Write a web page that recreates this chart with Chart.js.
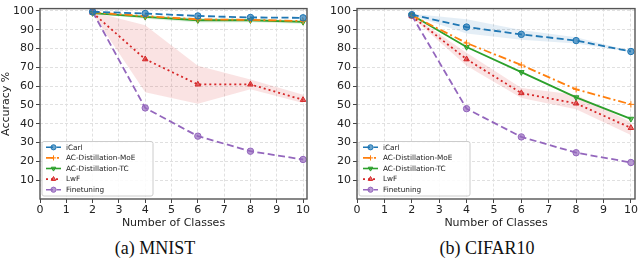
<!DOCTYPE html>
<html>
<head>
<meta charset="utf-8">
<script src="https://cdn.jsdelivr.net/npm/chart.js@4/dist/chart.umd.min.js"></script>
<style>
    body { margin: 0; background: #fff; width: 640px; height: 261px; overflow: hidden; position: relative; }
    .box { position: absolute; top: 0; height: 230px; }
    .caption { position: absolute; top: 238px; font-family: "Liberation Serif", serif; font-size: 18px; color: #111; text-align: center; width: 200px; }
</style>
</head>
<body>
<div class="box" style="left:0; width:320px;"><canvas id="mnistChart"></canvas></div>
<div class="box" style="left:320px; width:320px;"><canvas id="cifarChart"></canvas></div>
<div class="caption" style="left:55px;">(a) MNIST</div>
<div class="caption" style="left:387px;">(b) CIFAR10</div>
<script>
// Data
const classes = [2, 4, 6, 8, 10];
const xTicks = [0, 1, 2, 3, 4, 5, 6, 7, 8, 9, 10];
const yTicks = [10, 20, 30, 40, 50, 60, 70, 80, 90, 100];

// MNIST
const mnistIcarl = [99.5, 98.6, 97.3, 96.5, 96.3];
const mnistMoE = [99.2, 97.2, 95.5, 95.2, 94.6];
const mnistTC = [98.8, 96.8, 95.0, 95.0, 94.1];
const mnistLwF = [99.0, 74.3, 60.9, 60.9, 52.7];
const mnistFinetune = [99.5, 48.4, 33.4, 25.4, 21.0];
const mnistLwFUpper = [99.5, 92.3, 70.8, 63.5, 55.4];
const mnistLwFLower = [98.5, 56.8, 50.6, 58.3, 51.0];
const mnistTCUpper = [99.2, 97.6, 96.2, 95.8, 95.0];
const mnistTCLower = [98.4, 95.8, 93.8, 94.0, 93.2];

// CIFAR10
const cifarIcarl = [98.0, 91.4, 87.5, 84.2, 78.4];
const cifarMoE = [97.6, 82.9, 71.2, 58.3, 50.3];
const cifarTC = [97.8, 80.8, 67.4, 54.0, 42.6];
const cifarLwF = [97.2, 74.3, 56.3, 50.8, 37.8];
const cifarFinetune = [97.6, 48.0, 33.0, 24.6, 19.4];
const cifarIcarlUpper = [98.4, 95.6, 89.8, 86.0, 78.7];
const cifarIcarlLower = [97.6, 88.0, 84.6, 82.6, 78.1];
const cifarLwFUpper = [97.6, 77.7, 59.0, 55.4, 40.8];
const cifarLwFLower = [96.6, 70.8, 53.7, 47.7, 34.0];

const pts = arr => classes.map((c, i) => ({ x: c, y: arr[i] }));

const seriesStyle = {
    icarl: { label: 'iCarl', color: '#1f77b4', dash: [7, 3.5], marker: 'circle', rot: 0 },
    moe: { label: 'AC-Distillation-MoE', color: '#ff7f0e', dash: [8, 3, 2, 3], marker: 'cross', rot: 0 },
    tc: { label: 'AC-Distillation-TC', color: '#2ca02c', dash: [], marker: 'triangle', rot: 180 },
    lwf: { label: 'LwF', color: '#d62728', dash: [2, 3], marker: 'triangle', rot: 0 },
    ft: { label: 'Finetuning', color: '#9467bd', dash: [7, 3.5], marker: 'circle', rot: 0 }
};

function line(key, values) {
    const s = seriesStyle[key];
    return {
        label: s.label,
        data: pts(values),
        borderColor: s.color,
        borderWidth: 1.8,
        borderDash: s.dash,
        pointStyle: s.marker,
        pointRotation: s.rot,
        pointRadius: 3.2,
        pointBorderWidth: 1,
        pointBorderColor: s.color,
        pointBackgroundColor: s.color + 'aa',
        fill: false,
        tension: 0
    };
}

function band(upper, lower, color) {
    return [{
        band: true,
        data: pts(upper),
        borderWidth: 0,
        pointRadius: 0,
        backgroundColor: color,
        fill: '+1'
    }, {
        band: true,
        data: pts(lower),
        borderWidth: 0,
        pointRadius: 0,
        fill: false
    }];
}

// Frame around the plot area (matplotlib style box)
const framePlugin = {
    id: 'frame',
    afterDatasetsDraw(chart) {
        const a = chart.chartArea;
        const ctx = chart.ctx;
        ctx.save();
        ctx.strokeStyle = '#555';
        ctx.lineWidth = 1.4;
        ctx.strokeRect(a.left, a.top, a.right - a.left, a.bottom - a.top);
        ctx.restore();
    }
};

// Legend box in lower-left corner of the plot area
const boxLegendPlugin = {
    id: 'boxLegend',
    afterDraw(chart) {
        const a = chart.chartArea;
        const ctx = chart.ctx;
        const items = chart.data.datasets.filter(d => !d.band);
        const x0 = a.left + 2, y1 = a.bottom - 3;
        const w = 111, rowH = 10.6, h = items.length * rowH + 1.5;
        const y0 = y1 - h;
        ctx.save();
        ctx.fillStyle = 'rgba(255,255,255,0.85)';
        ctx.strokeStyle = '#cccccc';
        ctx.lineWidth = 1;
        ctx.beginPath();
        ctx.roundRect(x0, y0, w, h, 2);
        ctx.fill();
        ctx.stroke();
        ctx.font = '7.3px "DejaVu Sans"';
        ctx.textBaseline = 'middle';
        items.forEach((d, i) => {
            const cy = y0 + 5.8 + i * rowH;
            ctx.strokeStyle = d.borderColor;
            ctx.lineWidth = 1.6;
            ctx.setLineDash(d.borderDash);
            ctx.beginPath();
            ctx.moveTo(x0 + 4, cy);
            ctx.lineTo(x0 + 19, cy);
            ctx.stroke();
            ctx.setLineDash([]);
            ctx.fillStyle = d.pointBackgroundColor;
            ctx.strokeStyle = d.pointBorderColor;
            ctx.lineWidth = 1;
            Chart.helpers.drawPoint(ctx, {
                pointStyle: d.pointStyle,
                rotation: d.pointRotation,
                radius: 2.6,
                borderWidth: 1
            }, x0 + 11.5, cy);
            ctx.fillStyle = '#222';
            ctx.fillText(d.label, x0 + 24, cy + 0.5);
        });
        ctx.restore();
    }
};

const gridStyle = { color: '#e0e0e0', tickColor: '#444', tickLength: 4, tickBorderDash: [] };

function makeOptions(withTitle, padRight, yWidth) {
    return {
        responsive: true,
        maintainAspectRatio: false,
        animation: false,
        layout: { padding: { top: 3, right: padRight, left: 0, bottom: 0 } },
        plugins: { legend: { display: false }, tooltip: { enabled: false } },
        scales: {
            x: {
                type: 'linear',
                min: 0,
                max: 10.15,
                afterBuildTicks: axis => { axis.ticks = xTicks.map(v => ({ value: v })); },
                afterFit: axis => { axis.height = 31; },
                grid: gridStyle,
                border: { display: false, dash: [3, 2] },
                ticks: { color: '#222', font: { family: 'DejaVu Sans', size: 11 }, padding: 1, maxRotation: 0 },
                title: { display: true, text: 'Number of Classes', color: '#222', font: { family: 'DejaVu Sans', size: 11 }, padding: 0 }
            },
            y: {
                min: 0,
                max: 101.2,
                afterBuildTicks: axis => { axis.ticks = yTicks.map(v => ({ value: v })); },
                afterFit: axis => { axis.width = yWidth; },
                grid: gridStyle,
                border: { display: false, dash: [3, 2] },
                ticks: { color: '#222', font: { family: 'DejaVu Sans', size: 11 }, padding: 2 },
                title: { display: withTitle, text: 'Accuracy %', color: '#222', font: { family: 'DejaVu Sans', size: 11 }, padding: 0 }
            }
        }
    };
}

new Chart(document.getElementById('mnistChart').getContext('2d'), {
    type: 'line',
    data: {
        datasets: [
            line('icarl', mnistIcarl),
            line('moe', mnistMoE),
            line('tc', mnistTC),
            line('lwf', mnistLwF),
            line('ft', mnistFinetune),
            ...band(mnistTCUpper, mnistTCLower, 'rgba(44,160,44,0.15)'),
            ...band(mnistLwFUpper, mnistLwFLower, 'rgba(214,39,40,0.13)')
        ]
    },
    options: makeOptions(true, 13, 40),
    plugins: [framePlugin, boxLegendPlugin]
});

new Chart(document.getElementById('cifarChart').getContext('2d'), {
    type: 'line',
    data: {
        datasets: [
            line('icarl', cifarIcarl),
            line('moe', cifarMoE),
            line('tc', cifarTC),
            line('lwf', cifarLwF),
            line('ft', cifarFinetune),
            ...band(cifarIcarlUpper, cifarIcarlLower, 'rgba(31,119,180,0.12)'),
            ...band(cifarLwFUpper, cifarLwFLower, 'rgba(214,39,40,0.13)')
        ]
    },
    options: makeOptions(false, 3, 37),
    plugins: [framePlugin, boxLegendPlugin]
});
</script>
</body>
</html>
